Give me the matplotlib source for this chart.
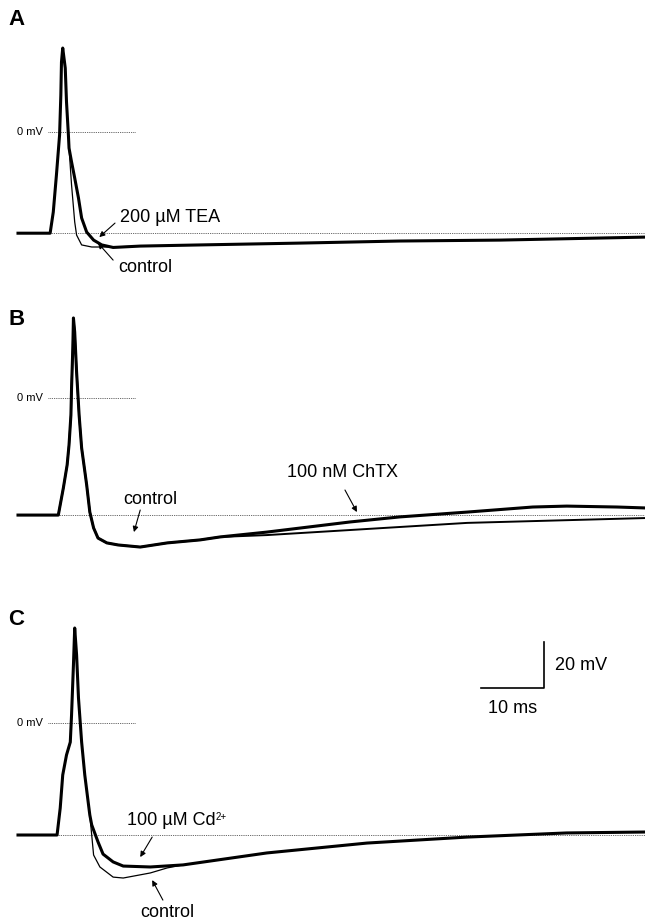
import matplotlib
matplotlib.use("Agg")
import matplotlib.pyplot as plt

plt.rcParams['font.family'] = ['Liberation Sans', 'DejaVu Sans']

# ---- data: time (ms) and membrane potential (mV) ----
# panel A: 200 uM TEA
a_spike_t = [0, 5.1, 5.6, 6.1, 6.6, 6.8, 6.9, 7.1, 7.5, 7.7, 8.0, 8.1]
a_spike_v = [-44.0, -44.0, -34.8, -18.7, -1.3, 16.1, 30.4, 36.5, 27.8, 13.0, -1.3, -7.0]
a_late_t = [19.4, 28.9, 44.8, 60.6, 76.5, 99.5]
a_late_v = [-49.6, -49.1, -48.3, -47.4, -47.0, -45.7]
a_ctrl_t = a_spike_t + [8.5, 9.0, 9.3, 10.1, 11.7, 14.6] + a_late_t
a_ctrl_v = a_spike_v + [-23.0, -39.1, -44.8, -49.1, -50.0, -50.0] + a_late_v
a_tea_t = a_spike_t + [8.5, 9.0, 9.6, 10.1, 10.9, 12.0, 13.3, 15.1] + a_late_t
a_tea_v = a_spike_v + [-13.0, -20.0, -28.7, -37.4, -43.5, -47.0, -49.1, -50.2] + a_late_v
a_rest = -44.0
a_onset = 5.1

# panel B: 100 nM ChTX
b_spike_t = [0, 6.4, 7.2, 7.8, 8.1, 8.4, 8.5, 8.7, 8.8, 9.0, 9.3, 9.7, 10.1, 10.9, 11.4, 12.0, 12.7, 14.1, 15.9, 19.4, 23.7, 28.9, 32.1]
b_spike_v = [-50.9, -50.9, -39.1, -29.1, -20.4, -7.4, 4.3, 21.7, 34.8, 28.7, 11.3, -7.4, -21.7, -37.8, -49.6, -56.5, -60.9, -63.0, -63.9, -64.8, -63.0, -61.7, -60.4]
b_chtx_t = b_spike_t + [39.5, 52.7, 60.6, 71.3, 81.7, 87.1, 95.1, 99.5]
b_chtx_v = b_spike_v + [-58.3, -53.9, -51.7, -49.6, -47.4, -47.0, -47.4, -47.8]
b_ctrl_t = b_spike_t + [39.5, 52.7, 71.3, 99.5]
b_ctrl_v = b_spike_v + [-59.6, -57.4, -54.3, -52.2]
b_rest = -50.9
b_onset = 6.4

# panel C: 100 uM Cd2+
c_spike_t = [0, 6.2, 6.7, 7.1, 7.7, 8.3, 8.5, 8.8, 9.0, 9.3, 9.6, 10.1, 10.6, 11.2, 11.4]
c_spike_v = [-48.7, -48.7, -37.0, -22.6, -13.9, -8.3, 3.5, 25.2, 41.3, 29.6, 10.9, -8.3, -22.6, -35.7, -40.0]
c_late_t = [26.2, 39.5, 55.4, 71.3, 87.1, 99.5]
c_late_v = [-61.7, -56.5, -52.2, -49.6, -47.8, -47.4]
c_cd_t = c_spike_t + [11.7, 12.7, 13.5, 15.1, 16.7, 21.0] + c_late_t
c_cd_v = c_spike_v + [-44.3, -51.7, -57.0, -60.4, -62.2, -62.6] + c_late_v
c_ctrl_t = c_spike_t + [12.0, 13.0, 15.1, 16.7, 21.0, 23.7] + c_late_t
c_ctrl_v = c_spike_v + [-57.4, -62.6, -67.0, -67.4, -65.2, -63.0] + c_late_v
c_rest = -48.7
c_onset = 6.2

W, H = 645, 924
PX_MS = 6.3    # pixels per ms
PX_MV = 2.3    # pixels per mV
X0 = 18        # pixel of t = 0

fig = plt.figure(figsize=(W / 100, H / 100), dpi=100)


def make_axes(top, bottom, zero_px):
    ax = fig.add_axes([0, 1 - bottom / H, 1, (bottom - top) / H])
    ax.set_xlim(-X0 / PX_MS, (W - X0) / PX_MS)
    ax.set_ylim(-(bottom - zero_px) / PX_MV, (zero_px - top) / PX_MV)
    ax.axis('off')
    return ax


def decorate(ax, rest, onset, letter):
    ax.plot([onset, 99.5], [rest, rest], color='#333333', lw=0.6, ls=(0, (1, 1.2)))
    ax.plot([4.8, 18.6], [0, 0], color='#333333', lw=0.6, ls=(0, (1, 1.2)))
    ax.text(-0.1, 0, '0 mV', fontsize=8, ha='left', va='center')
    ax.text(-1.5, ax.get_ylim()[1] - 4, letter, fontsize=16, fontweight='bold', ha='left', va='top')


def arrow(ax, tail, head):
    ax.annotate('', xy=head, xytext=tail,
                arrowprops=dict(arrowstyle='-|>', color='black', lw=0.8, mutation_scale=8,
                                shrinkA=0, shrinkB=0))


# A
axA = make_axes(0, 300, 132)
decorate(axA, a_rest, a_onset, 'A')
axA.plot(a_ctrl_t, a_ctrl_v, color='black', lw=0.9)
axA.plot(a_tea_t, a_tea_v, color='black', lw=2.2)
axA.text(16.2, -37.0, '200 µM TEA', fontsize=13, ha='left', va='center')
arrow(axA, (15.4, -39.6), (12.9, -45.7))
axA.text(15.9, -59.1, 'control', fontsize=13, ha='left', va='center')
arrow(axA, (15.1, -55.7), (12.7, -48.3))

# B
axB = make_axes(300, 600, 398)
decorate(axB, b_rest, b_onset, 'B')
axB.plot(b_ctrl_t, b_ctrl_v, color='black', lw=1.4)
axB.plot(b_chtx_t, b_chtx_v, color='black', lw=2.2)
axB.text(42.7, -32.6, '100 nM ChTX', fontsize=13, ha='left', va='center')
arrow(axB, (51.9, -40.0), (53.8, -49.6))
axB.text(16.7, -44.3, 'control', fontsize=13, ha='left', va='center')
arrow(axB, (19.4, -48.7), (18.4, -58.3))

# C
axC = make_axes(600, 924, 723)
decorate(axC, c_rest, c_onset, 'C')
axC.plot(c_ctrl_t, c_ctrl_v, color='black', lw=0.9)
axC.plot(c_cd_t, c_cd_v, color='black', lw=2.2)
cd_txt = axC.text(17.3, -42.2, '100 µM Cd', fontsize=13, ha='left', va='center')
axC.annotate('2+', xy=(1.0, 0.95), xycoords=cd_txt, fontsize=7, ha='left', va='top')
arrow(axC, (21.3, -49.6), (19.4, -58.3))
axC.text(19.4, -82.6, 'control', fontsize=13, ha='left', va='center')
arrow(axC, (23.0, -77.0), (21.3, -68.3))

# scale bar: 10 ms, 20 mV
axC.plot([73.5, 83.5, 83.5], [15.2, 15.2, 35.2], color='black', lw=1.2)
axC.text(85.2, 25.2, '20 mV', fontsize=13, ha='left', va='center')
axC.text(78.5, 6.5, '10 ms', fontsize=13, ha='center', va='center')

fig.savefig('out.png', dpi=100)
